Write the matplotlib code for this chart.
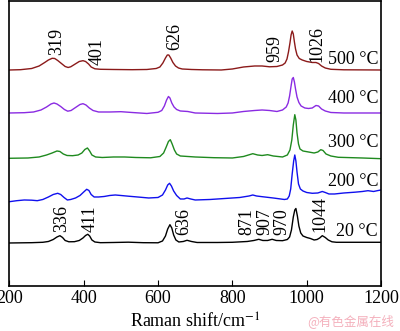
import matplotlib
matplotlib.use("Agg")
import matplotlib.pyplot as plt

plt.rcParams["font.family"] = ["Liberation Serif", "DejaVu Serif"]
plt.rcParams["mathtext.fontset"] = "stix"

# Raman spectra (a.u., relative to each curve's baseline)
x_500 = [200, 230, 260, 280, 295, 305, 315, 322, 330, 340, 350, 358, 365, 375, 388, 398,
         405, 413, 420, 430, 445, 480, 530, 570, 595, 605, 613, 620, 625, 629, 634, 640,
         647, 655, 665, 690, 720, 770, 800, 830, 860, 880, 900, 920, 935, 942, 947, 951,
         955, 958, 961, 964, 967, 970, 974, 980, 988, 1000, 1015, 1025, 1032, 1040, 1050,
         1065, 1100, 1200]
y_500 = [0, 0.3, 1.5, 4, 7.5, 10, 11.7, 11.5, 9.5, 6.5, 3.5, 2.5, 3.2, 5.5, 8.5, 9.3,
         8.5, 6, 3, 1.2, 0.7, 0.5, 0.3, 0.5, 1.5, 3, 7, 12, 15, 15, 12, 7.5,
         4, 2, 1, 0.5, 0.2, 0, 1, 3, 4, 4, 3.2, 3.5, 5, 7, 11, 18,
         27, 35, 39, 36, 28, 21, 15, 11.5, 10, 8.5, 7.5, 7.5, 6.5, 4, 2,
         0.7, 0.2, 0]

x_400 = [200, 240, 265, 285, 300, 312, 320, 328, 338, 348, 357, 366, 378, 390, 398, 406,
         415, 425, 440, 470, 500, 530, 570, 600, 610, 617, 623, 628, 632, 637, 643, 650,
         660, 680, 700, 760, 800, 830, 860, 880, 900, 920, 935, 945, 950, 954, 958, 961,
         964, 967, 970, 974, 979, 985, 995, 1005, 1015, 1025, 1032, 1040, 1050, 1065,
         1100, 1200]
y_400 = [0, 0.3, 1, 3, 6, 9, 10, 9, 6.5, 3.5, 1.8, 2.5, 5.5, 8.5, 9.3, 8,
         5, 2.5, 1, 1, 1.3, 0.5, -0.5, 0.7, 2.5, 7, 13, 16.5, 15, 10, 6, 3.5,
         2, 1.5, 0, -0.5, 0, 1.5, 2.5, 3, 2.5, 1.5, 3, 6, 10, 17, 27, 34,
         35.5, 31, 24, 16, 10.5, 7, 5, 4.5, 5, 7.5, 7, 4, 2, 0.5,
         0, 0]

x_300 = [200, 250, 280, 300, 315, 328, 336, 345, 355, 370, 385, 395, 403, 410, 416, 422,
         432, 450, 480, 510, 540, 580, 605, 615, 622, 628, 633, 638, 644, 650, 660, 680,
         700, 750, 800, 830, 855, 868, 880, 895, 910, 935, 948, 955, 960, 964, 968, 971,
         974, 978, 982, 990, 1005, 1020, 1030, 1038, 1044, 1052, 1065, 1085, 1150, 1200]
y_300 = [-0.3, 0, 1, 3, 5, 7, 6.5, 4, 2.5, 2.3, 3, 5, 8.5, 10, 7, 3,
         1, 0.5, 1, 1, 0.5, 0.2, 1.5, 5, 11, 16.5, 18.3, 14, 8, 4, 2, 1.5,
         1, 0.3, 0, 1.5, 4.3, 3, 2.5, 3.3, 2, 1, 3, 8, 18, 33, 43.3, 38,
         25, 14, 9, 7, 6, 5, 6, 8.3, 7.5, 4, 2, 0.7, 0, -0.7]

x_200 = [200, 220, 240, 260, 275, 290, 305, 318, 330, 338, 347, 356, 365, 378, 390, 400,
         408, 414, 420, 428, 440, 455, 470, 485, 500, 520, 545, 575, 600, 612, 620, 626,
         631, 636, 642, 650, 660, 670, 678, 688, 700, 740, 780, 820, 845, 855, 865, 880,
         910, 940, 948, 953, 957, 961, 965, 968, 971, 974, 978, 983, 990, 1000, 1015, 1030,
         1042, 1050, 1060, 1075, 1100, 1130, 1150, 1165, 1180, 1190, 1200]
y_200 = [-0.7, 0.3, 1, 0.8, 0.3, 1.5, 4, 6.5, 7.7, 6.5, 3.5, 1, 1.5, 3, 5.5, 9,
         11.7, 10.5, 6.5, 4, 4, 4.5, 5.5, 6, 5.5, 4.8, 4, 3, 3.5, 6, 11, 16,
         17.7, 15, 10, 5.5, 2, 2, 3, 2, 1, 1.5, 2.5, 3.5, 5, 6, 5, 4.3,
         3, 1.5, 2, 5, 12, 27, 40, 46, 40, 29, 17, 12, 10, 8.5, 7.7, 8,
         9.5, 8.5, 7, 7, 8, 8.8, 9.5, 10.3, 9.5, 10.3, 11]

x_20 = [200, 260, 290, 305, 318, 328, 336, 343, 350, 360, 375, 388, 398, 405, 411, 416,
        422, 430, 445, 480, 520, 560, 600, 612, 620, 626, 632, 637, 642, 648, 656, 668,
        678, 690, 705, 760, 800, 840, 858, 871, 882, 895, 907, 918, 935, 948, 954, 959,
        964, 968, 971, 975, 979, 984, 990, 1000, 1010, 1020, 1028, 1035, 1042, 1050, 1058,
        1068, 1080, 1200]
y_20 = [0, 0.3, 0.7, 1.5, 3.5, 6, 7.3, 5.5, 2.5, 1.2, 1.3, 2.5, 5, 7.5, 8.7, 7,
        3, 1, 0.3, 0.5, 0.8, 0.3, 0.2, 2, 7, 14, 18.3, 15, 8, 3, 1, 1.5,
        2.7, 1.5, 0.5, 0.5, 0.7, 1.5, 2.5, 3.7, 2.5, 2.5, 3.7, 2.5, 2.3, 3.5, 6, 13,
        26, 33, 34.5, 27, 17, 10, 7, 5.5, 4.5, 3, 3.5, 5, 7.3, 5.5, 3,
        1.2, 0.7, 0.7]

temps = ["20 °C", "200 °C", "300 °C", "400 °C", "500 °C"]
xs_all = [x_20, x_200, x_300, x_400, x_500]
ys_all = [y_20, y_200, y_300, y_400, y_500]
colors = ["black", "#1010ee", "#1f8a1f", "#8a2be2", "#8b1a1a"]
offsets = [43, 85, 128, 173, 216]
temp_label_y = [54, 104, 143, 187, 226]

# peak labels: text, x position, bottom of the rotated text
peak_text = ["319", "401", "626", "959", "1026",
             "336", "411", "636", "871", "907", "970", "1044"]
peak_x = [326, 436, 646, 914, 1027, 340, 416, 669, 839, 887, 933, 1035]
peak_y = [231, 221, 236, 224, 224, 54, 54, 51, 51, 51, 51, 54]

fig = plt.figure(figsize=(4.0, 3.31), dpi=100)
ax = fig.add_axes([0.0235, 0.136, 0.929, 0.861])

for label, xs, ys, color, off, ly in zip(temps, xs_all, ys_all, colors, offsets, temp_label_y):
    ax.plot(xs, [v + off for v in ys], color=color, lw=1.0)
    ax.text(1192, ly, label, ha="right", va="center", fontsize=13)

for txt, px, py in zip(peak_text, peak_x, peak_y):
    ax.text(px, py, txt, rotation=90, ha="center", va="bottom", fontsize=13)

ax.set_xlim(200, 1200)
ax.set_ylim(0, 285)
ax.set_xticks([200, 400, 600, 800, 1000, 1200])
ax.set_yticks([])
ax.tick_params(axis="x", direction="in", length=4, labelsize=13, pad=3)
ax.set_xlabel("Raman shift/cm$^{-1}$", fontsize=13, labelpad=4)
for sp in ax.spines.values():
    sp.set_linewidth(1.2)

fig.text(0.985, 0.008, "@有色金属在线", ha="right", va="bottom", fontsize=9,
         color="#f4b0bc", family=["Noto Sans CJK SC", "DejaVu Sans"])

fig.savefig("out.png", dpi=100)
